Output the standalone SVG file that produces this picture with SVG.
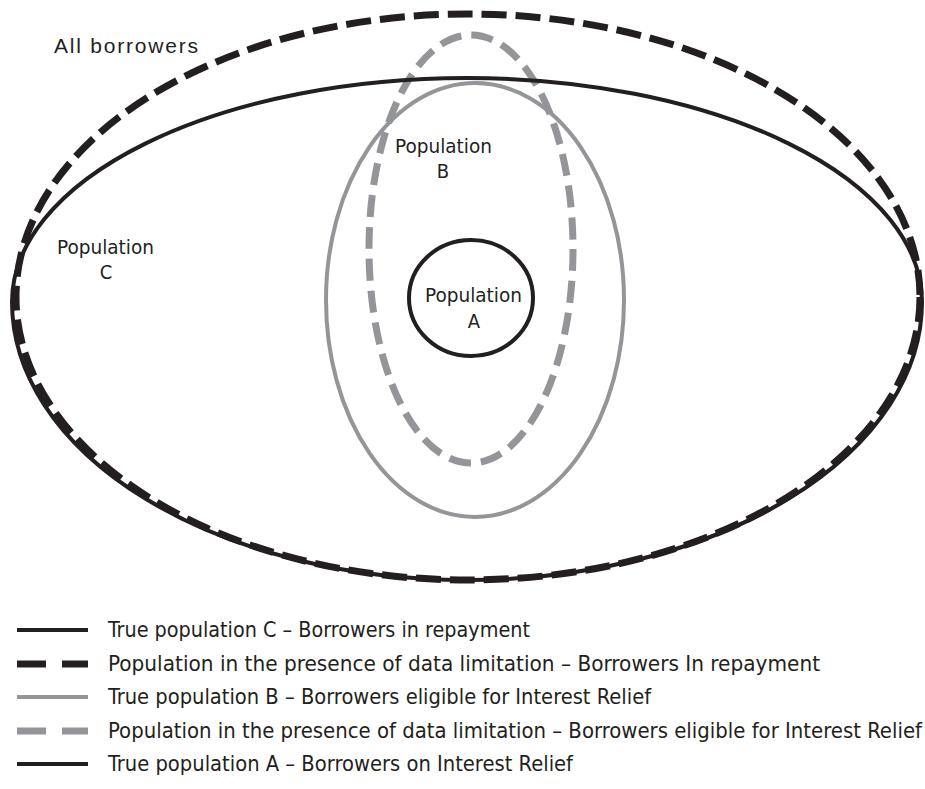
<svg xmlns="http://www.w3.org/2000/svg" width="925" height="789" viewBox="0 0 925 789">
<style>
.bg{fill:#ffffff}
.solidK{fill:none;stroke:#231f20;stroke-width:4}
.dashK{fill:none;stroke:#231f20;stroke-width:7;stroke-dasharray:25 9}
.solidG{fill:none;stroke:#939598;stroke-width:4}
.dashG{fill:none;stroke:#939598;stroke-width:7;stroke-dasharray:22 10}
.lbl{font-family:"Liberation Sans Narrow","DejaVu Sans Condensed","Liberation Sans",sans-serif;font-size:20px;fill:#231f20}
.title{font-family:"Liberation Sans",Arial,sans-serif;font-size:21px;fill:#231f20}
.leg{font-family:"Liberation Sans Narrow","DejaVu Sans Condensed","Liberation Sans",sans-serif;font-size:21px;fill:#231f20}
</style>
<rect class="bg" x="0" y="0" width="925" height="789"/>
<g id="popB-limited">
  <ellipse class="dashG" cx="471" cy="249" rx="102" ry="214"/>
</g>
<g id="popB-true">
  <ellipse class="solidG" cx="475" cy="300" rx="149" ry="217"/>
</g>
<g id="popC-true">
  <path class="solidK" d="M 12 302 A 455 224 0 0 1 922 302 A 455 278 0 0 1 12 302 Z"/>
</g>
<g id="popC-limited">
  <ellipse class="dashK" cx="468" cy="297" rx="452" ry="283"/>
</g>
<g id="popA">
  <ellipse class="solidK" cx="471" cy="298" rx="62" ry="58"/>
</g>
<g id="labels">
  <text class="title" x="54" y="53" textLength="144" lengthAdjust="spacing">All borrowers</text>
  <text class="lbl" x="57" y="254" textLength="97" lengthAdjust="spacingAndGlyphs">Population</text>
  <text class="lbl" x="106" y="279" text-anchor="middle">C</text>
  <text class="lbl" x="395" y="153" textLength="97" lengthAdjust="spacingAndGlyphs">Population</text>
  <text class="lbl" x="443" y="178" text-anchor="middle">B</text>
  <text class="lbl" x="425" y="302" textLength="97" lengthAdjust="spacingAndGlyphs">Population</text>
  <text class="lbl" x="474" y="328" text-anchor="middle">A</text>
</g>
<g id="legend">
  <line x1="17" y1="630" x2="88" y2="630" stroke="#231f20" stroke-width="4"/>
  <line x1="17" y1="664" x2="46" y2="664" stroke="#231f20" stroke-width="7"/>
  <line x1="62" y1="664" x2="88" y2="664" stroke="#231f20" stroke-width="7"/>
  <line x1="17" y1="697" x2="88" y2="697" stroke="#939598" stroke-width="4"/>
  <line x1="17" y1="731" x2="46" y2="731" stroke="#939598" stroke-width="7"/>
  <line x1="62" y1="731" x2="88" y2="731" stroke="#939598" stroke-width="7"/>
  <line x1="17" y1="764" x2="88" y2="764" stroke="#231f20" stroke-width="4"/>
  <text class="leg" x="108" y="637" textLength="422" lengthAdjust="spacingAndGlyphs">True population C – Borrowers in repayment</text>
  <text class="leg" x="108" y="671" textLength="712" lengthAdjust="spacingAndGlyphs">Population in the presence of data limitation – Borrowers In repayment</text>
  <text class="leg" x="108" y="704" textLength="543" lengthAdjust="spacingAndGlyphs">True population B – Borrowers eligible for Interest Relief</text>
  <text class="leg" x="108" y="738" textLength="814" lengthAdjust="spacingAndGlyphs">Population in the presence of data limitation – Borrowers eligible for Interest Relief</text>
  <text class="leg" x="108" y="771" textLength="465" lengthAdjust="spacingAndGlyphs">True population A – Borrowers on Interest Relief</text>
</g>
</svg>
